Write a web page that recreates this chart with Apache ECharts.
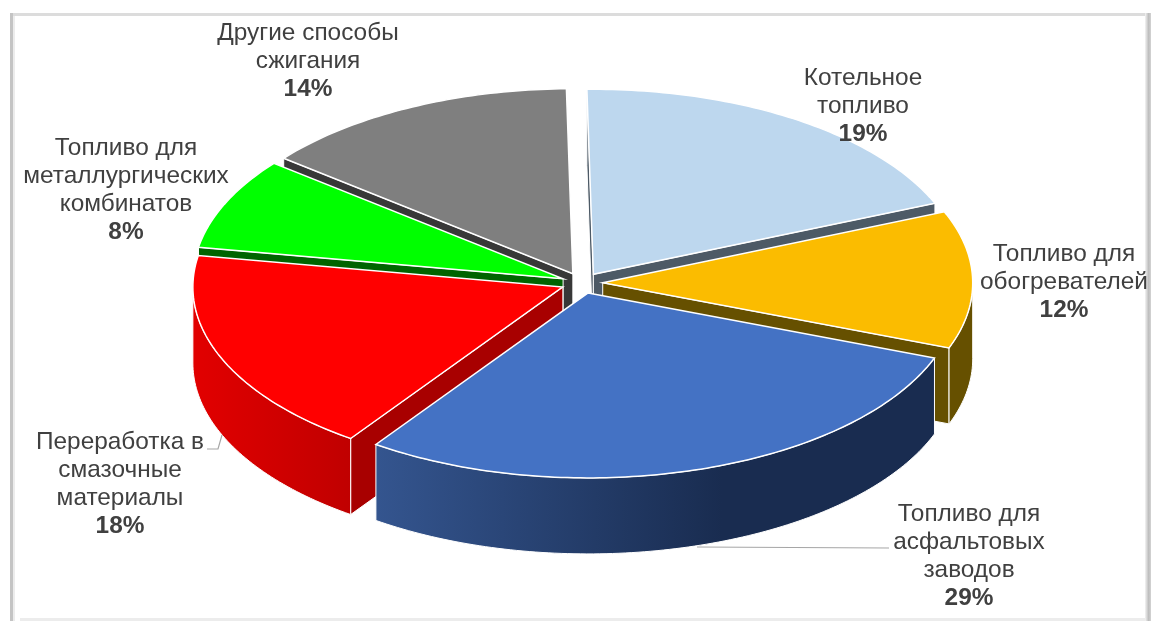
<!DOCTYPE html>
<html>
<head>
<meta charset="utf-8">
<style>html,body{margin:0;padding:0;background:#fff}#chart{width:1151px;height:621px}</style>
<script src="https://cdn.jsdelivr.net/npm/echarts@6/dist/echarts.min.js"></script>
</head>
<body>
<div id="chart"></div>
<script>
// Fuel oil end uses, share of total, percent (clockwise from the top)
const categories = [
  ['Котельное', 'топливо'],
  ['Топливо для', 'обогревателей'],
  ['Топливо для', 'асфальтовых', 'заводов'],
  ['Переработка в', 'смазочные', 'материалы'],
  ['Топливо для', 'металлургических', 'комбинатов'],
  ['Другие способы', 'сжигания']
];
const shares = [19, 12, 29, 18, 8, 14];

const topColors = ['#bdd7ee', '#fbbc00', '#4472c4', '#ff0000', '#00ff00', '#7f7f7f'];
const cutColors = ['#4d5a66', '#665000', '#1a2c50', '#a80000', '#006400', '#383838'];
const rimColors = [
  ['#4d5a66', '#4d5a66'], ['#665000', '#665000'], ['#34558f', '#192c50'],
  ['#e20000', '#c00000'], ['#006400', '#006400'], ['#383838', '#383838']
];
const rimStops = [1, 1, 0.62, 1, 1, 1];
const labelCenters = [
  [863, 106], [1064, 282], [969, 556], [120, 484], [126, 190], [308, 61]
];
const leaders = [
  null, null,
  [[697, 547], [889, 548]],
  [[207, 449], [218, 449], [222, 435]],
  null, null
];

// Tilted pie geometry
const pie = { cx: 582, cy: 283, a: 370, b: 185, depth: 76, explode: 0.056, startDeg: -1 };
const total = shares.reduce((s, v) => s + v, 0);
const toRad = d => d * Math.PI / 180;

function renderSlice(params, api) {
  const i = params.dataIndex;
  const value = api.value(0);
  const before = shares.slice(0, i).reduce((s, v) => s + v, 0);
  const t0 = pie.startDeg + before / total * 360;
  const t1 = t0 + value / total * 360;
  const mid = toRad((t0 + t1) / 2);
  const ox = pie.cx + pie.explode * pie.a * Math.sin(mid);
  const oy = pie.cy - pie.explode * pie.b * Math.cos(mid);
  const pt = (deg, drop) => [
    ox + pie.a * Math.sin(toRad(deg)),
    oy - pie.b * Math.cos(toRad(deg)) + (drop || 0)
  ];
  const arc = (from, to, drop) => {
    const n = Math.max(2, Math.ceil(Math.abs(to - from)));
    const out = [];
    for (let k = 0; k <= n; k++) out.push(pt(from + (to - from) * k / n, drop));
    return out;
  };
  // Slices nearer the viewer are painted later
  const base = 10 + Math.round((1 - Math.cos(mid)) * 20);
  const children = [];
  const apex = [ox, oy];
  const apexLow = [ox, oy + pie.depth];

  // Only cut faces turned toward the viewer are drawn
  const visibleCuts = [];
  if (Math.sin(toRad(t0)) < 0) visibleCuts.push(t0);
  if (Math.sin(toRad(t1)) > 0) visibleCuts.push(t1);
  visibleCuts.forEach(deg => {
    children.push({
      type: 'polygon', z2: base,
      shape: { points: [apex, pt(deg), pt(deg, pie.depth), apexLow] },
      style: { fill: cutColors[i], stroke: '#ffffff', lineWidth: 1 }
    });
  });

  // The outer wall shows only on the near half of the ellipse
  const from = Math.max(t0, 90);
  const to = Math.min(t1, 270);
  if (to > from) {
    const stop = rimStops[i];
    const colorStops = [
      { offset: 0, color: rimColors[i][0] },
      { offset: stop, color: rimColors[i][1] }
    ];
    if (stop < 1) colorStops.push({ offset: 1, color: rimColors[i][1] });
    children.push({
      type: 'polygon', z2: base + 1,
      shape: { points: arc(from, to, 0).concat(arc(to, from, pie.depth)) },
      style: {
        fill: { type: 'linear', x: 0, y: 0, x2: 1, y2: 0, colorStops },
        stroke: '#ffffff', lineWidth: 1
      }
    });
  }

  children.push({
    type: 'polygon', z2: base + 2,
    shape: { points: [apex].concat(arc(t0, t1, 0)) },
    style: { fill: topColors[i], stroke: '#ffffff', lineWidth: 1.5, lineJoin: 'miter' }
  });

  if (leaders[i]) {
    children.push({
      type: 'polyline', z2: 100,
      shape: { points: leaders[i] },
      style: { fill: null, stroke: '#a6a6a6', lineWidth: 1.2 }
    });
  }

  children.push({
    type: 'text', z2: 101,
    x: labelCenters[i][0], y: labelCenters[i][1],
    style: {
      text: categories[i].join('\n') + '\n{pct|' + value + '%}',
      fill: '#404040',
      font: '24.4px "Liberation Sans", Arial, sans-serif',
      lineHeight: 28,
      align: 'center',
      verticalAlign: 'middle',
      rich: {
        pct: { fill: '#404040', fontFamily: '"Liberation Sans", Arial, sans-serif', fontSize: 24.4, fontWeight: 'bold', lineHeight: 28 }
      }
    }
  });

  return { type: 'group', children };
}

const chart = echarts.init(document.getElementById('chart'), null, { renderer: 'canvas' });
chart.setOption({
  animation: false,
  backgroundColor: '#ffffff',
  graphic: [
    { type: 'rect', silent: true, shape: { x: 11, y: 13, width: 1140, height: 3 }, style: { fill: '#dcdcdc' } },
    { type: 'rect', silent: true, shape: { x: 10, y: 13, width: 3, height: 608 }, style: { fill: '#c4c4c4' } },
    { type: 'rect', silent: true, shape: { x: 13, y: 16, width: 2, height: 605 }, style: { fill: '#ececec' } },
    { type: 'rect', silent: true, shape: { x: 20, y: 618, width: 1131, height: 3 }, style: { fill: '#ececec' } },
    {
      type: 'rect', silent: true, shape: { x: 1145, y: 13, width: 6, height: 608 },
      style: { fill: { type: 'linear', x: 0, y: 0, x2: 1, y2: 0, colorStops: [{ offset: 0, color: '#f4f4f4' }, { offset: 0.6, color: '#bdbdbd' }, { offset: 1, color: '#d4d4d4' }] } }
    }
  ],
  series: [{
    type: 'custom',
    coordinateSystem: 'none',
    silent: true,
    renderItem: renderSlice,
    data: shares.map(v => [v])
  }]
});
</script>
</body>
</html>
